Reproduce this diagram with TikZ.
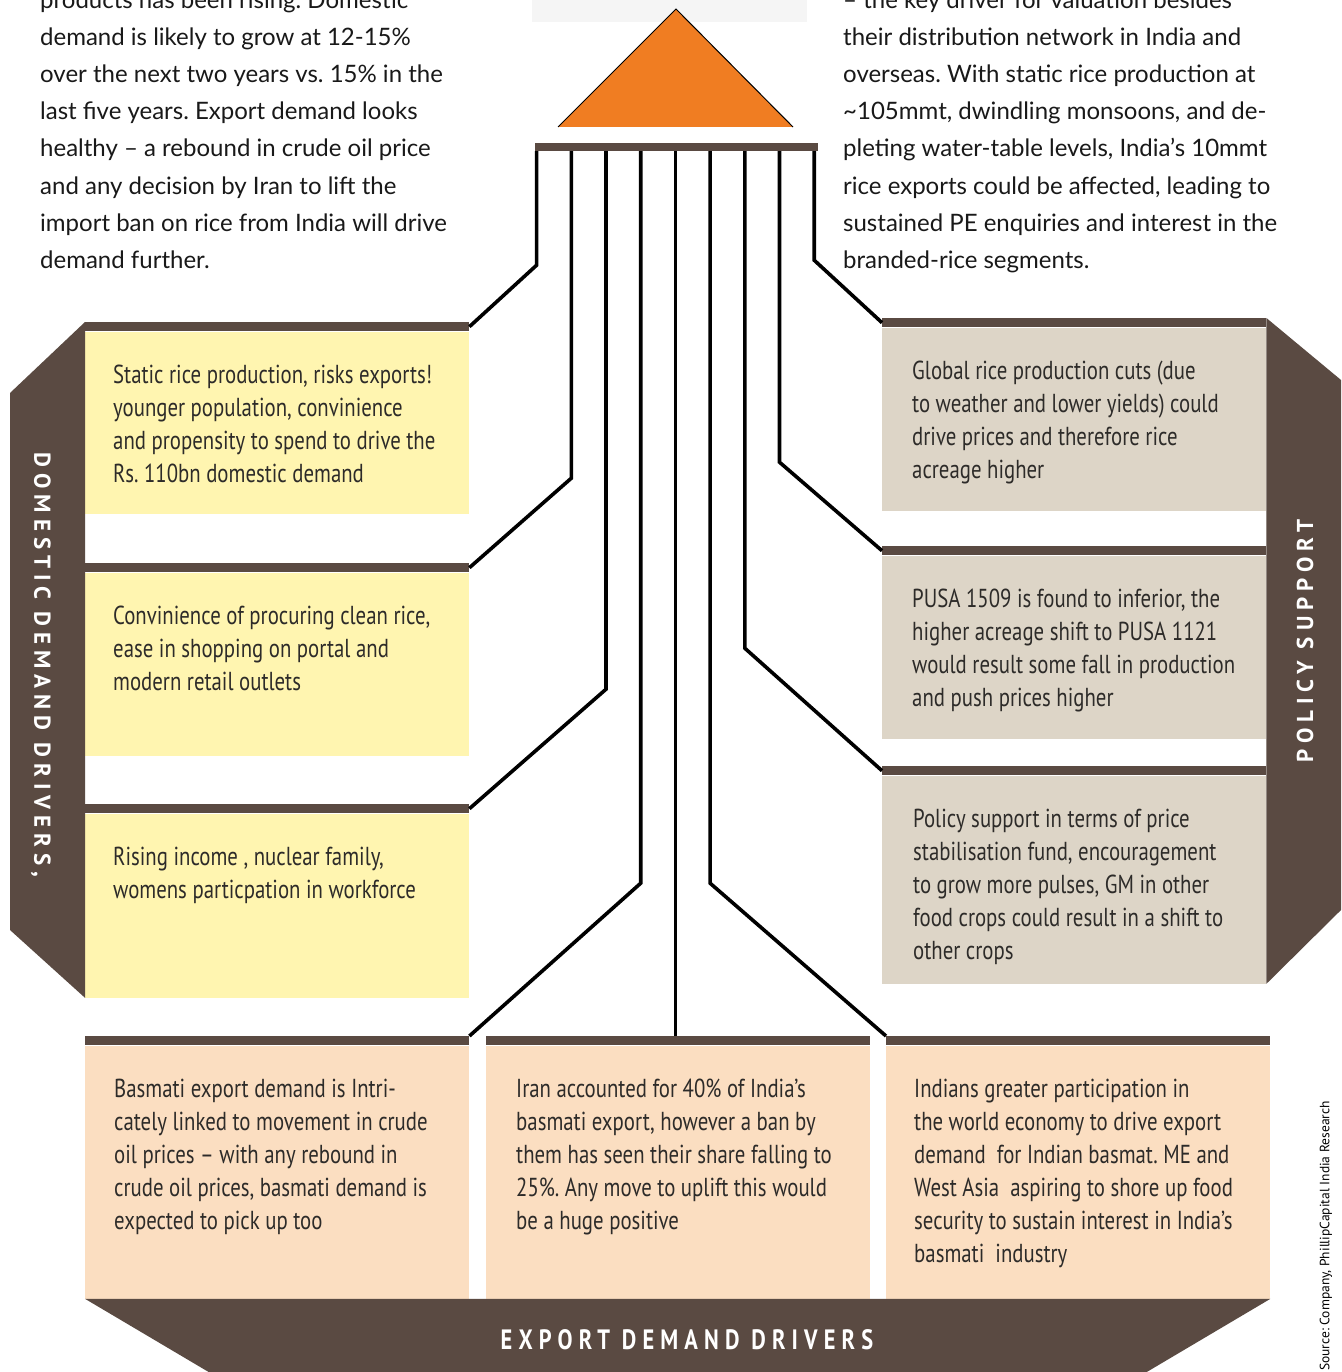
\documentclass[tikz,border=0pt]{standalone}
\usepackage{fontspec}
\setmainfont{Lato}
\newfontfamily\condfont[FakeStretch=0.8]{PT Sans}
\newfontfamily\bandfont[LetterSpace=26]{PT Sans}
\newfontfamily\tagfont[FakeStretch=0.8,LetterSpace=22]{PT Sans}
\newfontfamily\notefont{PT Sans}
\usetikzlibrary{calc,positioning}
\definecolor{ricebrown}{RGB}{90,74,66}
\definecolor{riceorange}{RGB}{240,125,34}
\definecolor{softyellow}{RGB}{255,245,176}
\definecolor{softbeige}{RGB}{221,213,199}
\definecolor{softpeach}{RGB}{251,222,193}
\definecolor{inkgrey}{RGB}{45,43,41}
\frenchspacing
\tikzset{
  wire/.style={line width=3.6pt, draw=black},
  cardbar/.style={
    fill=ricebrown,
    anchor=north west,
    inner sep=0pt,
    minimum width=384pt,
    minimum height=9pt
  },
  card/.style={anchor=north west, inner sep=0pt, minimum width=384pt},
  yellowcard/.style={card, fill=softyellow},
  beigecard/.style={card, fill=softbeige},
  peachcard/.style={card, fill=softpeach},
  cardtext/.style={
    anchor=north west,
    inner sep=0pt,
    align=left,
    text=inkgrey,
    font=\condfont\fontsize{26}{33}\selectfont
  },
  introtext/.style={
    anchor=north west,
    inner sep=0pt,
    align=left,
    text=black!90,
    font=\fontsize{24}{37.2}\selectfont
  },
  bandlabel/.style={inner sep=0pt, text=white, font=\bandfont\bfseries\fontsize{23}{23}\selectfont}
}

\begin{document}
\begin{tikzpicture}[x=1pt, y=-1pt]
  \useasboundingbox (0,0) rectangle (1341,1372);
  \clip (0,0) rectangle (1341,1372);
  \fill[white] (0,0) rectangle (1341,1372);

  % running text above the figure
  \node[introtext] (introleft) at (40,-18.2) {\strut products has been rising. Domestic\\
    demand is likely to grow at 12-15\%\\
    over the next two years vs. 15\% in the\\
    last five years. Export demand looks\\
    healthy – a rebound in crude oil price\\
    and any decision by Iran to lift the\\
    import ban on rice from India will drive\\
    demand further.};
  \node[introtext] (introright) at (843,-18.2) {\strut – the key driver for valuation besides\\
    their distribution network in India and\\
    overseas. With static rice production at\\
    \textasciitilde105mmt, dwindling monsoons, and de-\\
    pleting water-table levels, India’s 10mmt\\
    rice exports could be affected, leading to\\
    sustained PE enquiries and interest in the\\
    branded-rice segments.};

  % roof and hub
  \fill[black!4] (532,0) rectangle (807,22);
  \coordinate (apex) at (676,9);
  \coordinate (eaveleft) at (558,127);
  \coordinate (eaveright) at (793,127);
  \fill[riceorange] (apex) -- (eaveleft) -- (eaveright) -- cycle;
  \draw[line width=1pt] (eaveleft) -- (apex) -- (eaveright);
  \node[fill=ricebrown, inner sep=0pt, minimum width=283pt, minimum height=8pt] (hub) at (676.5,147) {};
  \foreach \i in {0,...,8}
    \coordinate (t\i) at ($(hub.south west)+(1.8+34.7*\i,0)$);

  % domestic demand drivers
  \node[cardbar] (l1bar) at (85,322) {};
  \node[yellowcard, minimum height=182pt] (l1body) at (l1bar.south west) {};
  \node[cardtext] (l1text) at ([shift={(28,38)}]l1bar.north west) {\strut Static rice production, risks exports!\\
    younger population, convinience\\
    and propensity to spend to drive the\\
    Rs. 110bn domestic demand};

  \node[cardbar] (l2bar) at (85,563) {};
  \node[yellowcard, minimum height=183pt] (l2body) at (l2bar.south west) {};
  \node[cardtext] (l2text) at ([shift={(28,38)}]l2bar.north west) {\strut Convinience of procuring clean rice,\\
    ease in shopping on portal and\\
    modern retail outlets};

  \node[cardbar] (l3bar) at (85,804) {};
  \node[yellowcard, minimum height=184pt] (l3body) at (l3bar.south west) {};
  \node[cardtext] (l3text) at ([shift={(28,38)}]l3bar.north west) {\strut Rising income , nuclear family,\\
    womens particpation in workforce};

  % policy support
  \node[cardbar] (r1bar) at (882,318) {};
  \node[beigecard, minimum height=183pt] (r1body) at (r1bar.south west) {};
  \node[cardtext] (r1text) at ([shift={(30,38)}]r1bar.north west) {\strut Global rice production cuts (due\\
    to weather and lower yields) could\\
    drive prices and therefore rice\\
    acreage higher};

  \node[cardbar] (r2bar) at (882,546) {};
  \node[beigecard, minimum height=183pt] (r2body) at (r2bar.south west) {};
  \node[cardtext] (r2text) at ([shift={(30,38)}]r2bar.north west) {\strut PUSA 1509 is found to inferior, the\\
    higher acreage shift to PUSA 1121\\
    would result some fall in production\\
    and push prices higher};

  \node[cardbar] (r3bar) at (882,766) {};
  \node[beigecard, minimum height=208pt] (r3body) at (r3bar.south west) {};
  \node[cardtext] (r3text) at ([shift={(31,38)}]r3bar.north west) {\strut Policy support in terms of price\\
    stabilisation fund, encouragement\\
    to grow more pulses, GM in other\\
    food crops could result in a shift to\\
    other crops};

  % export demand drivers
  \node[cardbar] (b1bar) at (85,1036) {};
  \node[peachcard, minimum height=253pt] (b1body) at (b1bar.south west) {};
  \node[cardtext] (b1text) at ([shift={(29,38)}]b1bar.north west) {\strut Basmati export demand is Intri-\\
    cately linked to movement in crude\\
    oil prices –  with any rebound in\\
    crude oil prices, basmati demand is\\
    expected to pick up too};

  \node[cardbar] (b2bar) at (486,1036) {};
  \node[peachcard, minimum height=253pt] (b2body) at (b2bar.south west) {};
  \node[cardtext] (b2text) at ([shift={(30,38)}]b2bar.north west) {\strut Iran accounted for 40\% of India’s\\
    basmati export, however a ban by\\
    them has seen their share falling to\\
    25\%. Any move to uplift this would\\
    be a huge positive};

  \node[cardbar] (b3bar) at (886,1036) {};
  \node[peachcard, minimum height=253pt] (b3body) at (b3bar.south west) {};
  \node[cardtext] (b3text) at ([shift={(28,38)}]b3bar.north west) {\strut Indians greater participation in\\
    the world economy to drive export\\
    demand \ for Indian basmat. ME and\\
    West Asia \ aspiring to shore up food\\
    security to sustain interest in India’s\\
    basmati \ industry};

  % side and bottom bands
  \fill[ricebrown] (l1bar.north west) -- (10,393) -- (10,930) -- (l3body.south west) -- cycle;
  \fill[ricebrown] (r1bar.north east) -- (1341,380) -- (1341,910) -- (r3body.south east) -- cycle;
  \fill[ricebrown] (b1body.south west) -- (b3body.south east) -- ++(-125,74) -- ($(b1body.south west)+(125,74)$) -- cycle;

  \node[bandlabel, rotate=-90] (domestic) at (41,665) {DOMESTIC DEMAND DRIVERS,};
  \node[bandlabel, rotate=90] (policy) at (1305,641) {POLICY SUPPORT};
  \node[inner sep=0pt, text=white, font=\tagfont\bfseries\fontsize{28}{28}\selectfont] (export) at (687,1340) {EXPORT DEMAND DRIVERS};

  % wires from the hub
  \draw[wire] (t0) -- ++(0,114) -- (l1bar.east);
  \draw[wire] (t1) -- ++(0,327) -- (l2bar.east);
  \draw[wire] (t2) -- ++(0,538) -- (l3bar.east);
  \draw[wire] (t3) -- ++(0,732) -- (b1bar.north east);
  \draw[wire] (t4) -- (t4 |- b2bar.north);
  \draw[wire] (t5) -- ++(0,732) -- (b3bar.north west);
  \draw[wire] (t6) -- ++(0,497) -- (r3bar.west);
  \draw[wire] (t7) -- ++(0,311) -- (r2bar.west);
  \draw[wire] (t8) -- ++(0,109) -- (r1bar.west);

  \node[rotate=90, inner sep=0pt, text=black, font=\notefont\fontsize{13.5}{13.5}\selectfont] (source) at (1326,1236) {Source: Company, PhillipCapital India Research};
\end{tikzpicture}
\end{document}
